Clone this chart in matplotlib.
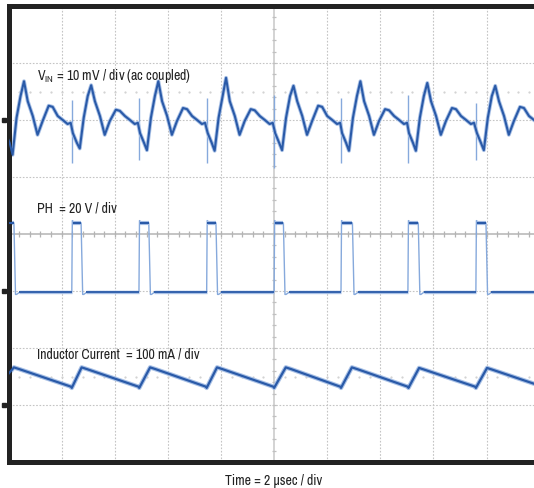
import numpy as np
import matplotlib.pyplot as plt

plt.rcParams['font.family'] = ['Nimbus Sans Narrow', 'Archivo Narrow', 'Liberation Sans', 'DejaVu Sans']

# screen: 10 div x 2 us, 8 div vertical
t_span = 20.0
n_vdiv = 8

# channel reference (div from bottom) and scale per div
vin_ref, vin_scale = 6.0, 10.0    # mV / div
ph_ref, ph_scale = 3.0, 20.0      # V / div
il_ref, il_scale = 1.0, 100.0     # mA / div

# V_IN ripple (ac coupled), us / mV
vin_t = [-0.11, 0.04, 0.15, 0.30, 0.45, 0.58, 0.72, 0.91, 1.09, 1.28, 1.51, 1.66, 1.85, 2.04, 2.22, 2.34,
         2.42, 2.57, 2.68, 2.83, 2.98, 3.11, 3.25, 3.44, 3.62, 3.81, 4.04, 4.19, 4.38, 4.57, 4.75, 4.87,
         4.95, 5.10, 5.21, 5.36, 5.51, 5.64, 5.78, 5.97, 6.15, 6.34, 6.57, 6.72, 6.91, 7.10, 7.28, 7.40,
         7.50, 7.65, 7.76, 7.91, 8.06, 8.19, 8.33, 8.52, 8.70, 8.89, 9.12, 9.27, 9.46, 9.65, 9.83, 9.95,
         10.04, 10.19, 10.30, 10.45, 10.60, 10.73, 10.87, 11.06, 11.24, 11.43, 11.66, 11.81, 12.00, 12.19, 12.37, 12.49,
         12.56, 12.71, 12.82, 12.97, 13.12, 13.25, 13.39, 13.58, 13.76, 13.95, 14.18, 14.33, 14.52, 14.71, 14.89, 15.01,
         15.08, 15.23, 15.34, 15.49, 15.64, 15.77, 15.91, 16.10, 16.28, 16.47, 16.70, 16.85, 17.04, 17.23, 17.41, 17.53,
         17.64, 17.79, 17.90, 18.05, 18.20, 18.33, 18.47, 18.66, 18.84, 19.03, 19.26, 19.41, 19.60, 19.79, 19.97, 20.09]
vin_mv = [-2.3, -4.0, -6.1, 0.4, 4.2, 6.8, 3.3, 0.7, -2.6, -0.2, 2.5, 2.3, 0.7, 0.0, -0.7, -0.5,
          -2.3, -4.0, -5.0, 0.4, 4.2, 6.1, 3.3, 0.7, -2.6, -0.2, 1.8, 1.6, 0.7, 0.0, -0.7, -0.5,
          -2.3, -4.0, -5.3, 0.4, 4.2, 6.8, 3.3, 0.7, -2.6, -0.2, 2.1, 1.9, 0.7, 0.0, -0.7, -0.5,
          -2.3, -4.0, -5.4, 0.4, 4.2, 7.4, 3.3, 0.7, -2.6, -0.2, 1.9, 1.7, 0.7, 0.0, -0.7, -0.5,
          -2.3, -4.0, -5.3, 0.4, 4.2, 6.0, 3.3, 0.7, -2.6, -0.2, 2.5, 2.3, 0.7, 0.0, -0.7, -0.5,
          -2.3, -4.0, -5.4, 0.4, 4.2, 6.8, 3.3, 0.7, -2.6, -0.2, 1.9, 1.7, 0.7, 0.0, -0.7, -0.5,
          -2.3, -4.0, -5.4, 0.4, 4.2, 6.5, 3.3, 0.7, -2.6, -0.2, 2.1, 1.9, 0.7, 0.0, -0.7, -0.5,
          -2.3, -4.0, -5.3, 0.4, 4.2, 6.0, 3.3, 0.7, -2.6, -0.2, 2.3, 2.1, 0.7, 0.0, -0.7, -0.5]

# switching spikes on V_IN
spike_t = [2.38, 4.91, 7.46, 10.00, 12.52, 15.04, 17.60]
spike_top_mv = [3.5, 3.9, 3.9, 4.4, 3.9, 4.4, 3.0]
spike_bot_mv = [-7.5, -7.0, -7.5, -8.4, -7.5, -7.5, -7.0]

# PH switch node
ph_rise = [-0.15, 2.38, 4.91, 7.46, 10.00, 12.52, 15.04, 17.60]
ph_fall = [0.20, 2.73, 5.28, 7.81, 10.35, 12.95, 15.43, 17.98]
ph_high = 23.9
ph_low = -0.2
ph_dip = -1.2

# inductor current, us / mA
il_t = [0.00, 0.20, 0.40, 2.36, 2.38, 2.75, 2.95, 4.90, 4.92, 5.33, 5.53, 7.44, 7.46, 7.85, 8.05,
        9.98, 10.00, 10.44, 10.64, 12.50, 12.52, 12.93, 13.13, 15.04, 15.06, 15.46, 15.66,
        17.58, 17.60, 18.02, 18.22, 20.00]
il_ma = [55, 66, 63, 32, 30, 66, 63, 32, 30, 66, 63, 32, 30, 66, 63,
         32, 30, 66, 63, 32, 30, 66, 63, 32, 30, 65, 62,
         32, 30, 65, 62, 34]

dark = '#2a5aa8'
light = '#a9c1e6'
edge = '#86a9dc'

fig = plt.figure(figsize=(5.34, 4.89), dpi=100)
ax = fig.add_axes([8.6 / 534, 26 / 489, 531 / 534, 456 / 489])
ax.set_xlim(0, t_span)
ax.set_ylim(0, n_vdiv)

# graticule
for x in np.arange(2, t_span, 2):
    if x != 10:
        ax.axvline(x, color='#c4c4c4', lw=0.8, ls=(0, (1.5, 1.5)), zorder=1)
for y in range(1, n_vdiv):
    if y != 4:
        ax.axhline(y, color='#c4c4c4', lw=0.8, ls=(0, (1.5, 1.5)), zorder=1)
ax.axvline(10, color='#c8c8c8', lw=1.1, zorder=1)
ax.axhline(4, color='#b4b4b4', lw=1.1, zorder=1)
ax.vlines(np.arange(0, t_span, 0.4), 4 - 0.045, 4 + 0.045, color='#b4b4b4', lw=0.9, zorder=1)
ax.hlines(np.arange(0, n_vdiv, 0.2), 10 - 0.07, 10 + 0.07, color='#c0c0c0', lw=0.9, zorder=1)
dot_x = np.arange(0.4, t_span, 0.4)
for y in [6.5, 1.5]:
    ax.plot(dot_x, np.full(len(dot_x), y), ls='none', marker='.', ms=1.2,
            color='#d0d0d0', zorder=1)

# V_IN
vin_y = [vin_ref + v / vin_scale for v in vin_mv]
ax.vlines(spike_t, [vin_ref + v / vin_scale for v in spike_bot_mv],
          [vin_ref + v / vin_scale for v in spike_top_mv], color=edge, lw=1.0, zorder=2)
ax.plot(vin_t, vin_y, color=light, lw=2.8, zorder=2, solid_joinstyle='round')
ax.plot(vin_t, vin_y, color=dark, lw=1.5, zorder=3, solid_joinstyle='round')

# PH
ph_t, ph_v = [], []
for r, f in zip(ph_rise, ph_fall):
    ph_t += [r, r + 0.02, r + 0.12, f, f + 0.06, f + 0.10, f + 0.25]
    ph_v += [ph_low, ph_high + 0.8, ph_high, ph_high, ph_dip, ph_dip, ph_low]
ph_t.append(t_span + 0.2)
ph_v.append(ph_low)
ph_y = [ph_ref + v / ph_scale for v in ph_v]
ax.plot(ph_t, ph_y, color=edge, lw=1.0, zorder=2)

hi_start = [r + 0.03 for r in ph_rise]
hi_y = [ph_ref + ph_high / ph_scale] * len(ph_rise)
lo_start = [f + 0.2 for f in ph_fall]
lo_end = ph_rise[1:] + [t_span]
lo_y = [ph_ref + ph_low / ph_scale] * len(ph_fall)
ax.hlines(hi_y, hi_start, ph_fall, color=light, lw=3.0, zorder=2)
ax.hlines(hi_y, hi_start, ph_fall, color=dark, lw=1.5, zorder=3)
ax.hlines(lo_y, lo_start, lo_end, color=light, lw=2.4, zorder=2)
ax.hlines(lo_y, lo_start, lo_end, color=dark, lw=1.3, zorder=3)

# inductor current
il_y = [il_ref + v / il_scale for v in il_ma]
ax.plot(il_t, il_y, color=light, lw=3.2, zorder=2)
ax.plot(il_t, il_y, color=dark, lw=1.6, zorder=3)

# channel ground markers
ax.plot([-0.17] * 3, [vin_ref, ph_ref, il_ref], ls='none', marker='s', ms=2.5,
        color='#222222', clip_on=False)

# labels
ax.text(1.07, 6.79, 'V$_{\\mathregular{IN}}$ = 10 mV / div (ac coupled)', fontsize=10,
        va='center', color='#222222')
ax.text(1.07, 4.46, 'PH  = 20 V / div', fontsize=10, va='center', color='#222222')
ax.text(1.07, 1.90, 'Inductor Current  = 100 mA / div', fontsize=10, va='center', color='#222222')
ax.text(10.0, -0.32, 'Time = 2 µsec / div', fontsize=10, ha='center', va='center',
        color='#222222')

ax.set_xticks([])
ax.set_yticks([])
for s in ['left', 'top', 'bottom']:
    ax.spines[s].set_linewidth(3.6)
    ax.spines[s].set_color('#222222')
    ax.spines[s].set_capstyle('projecting')
ax.spines['right'].set_visible(False)

fig.savefig('out.png', dpi=100)
